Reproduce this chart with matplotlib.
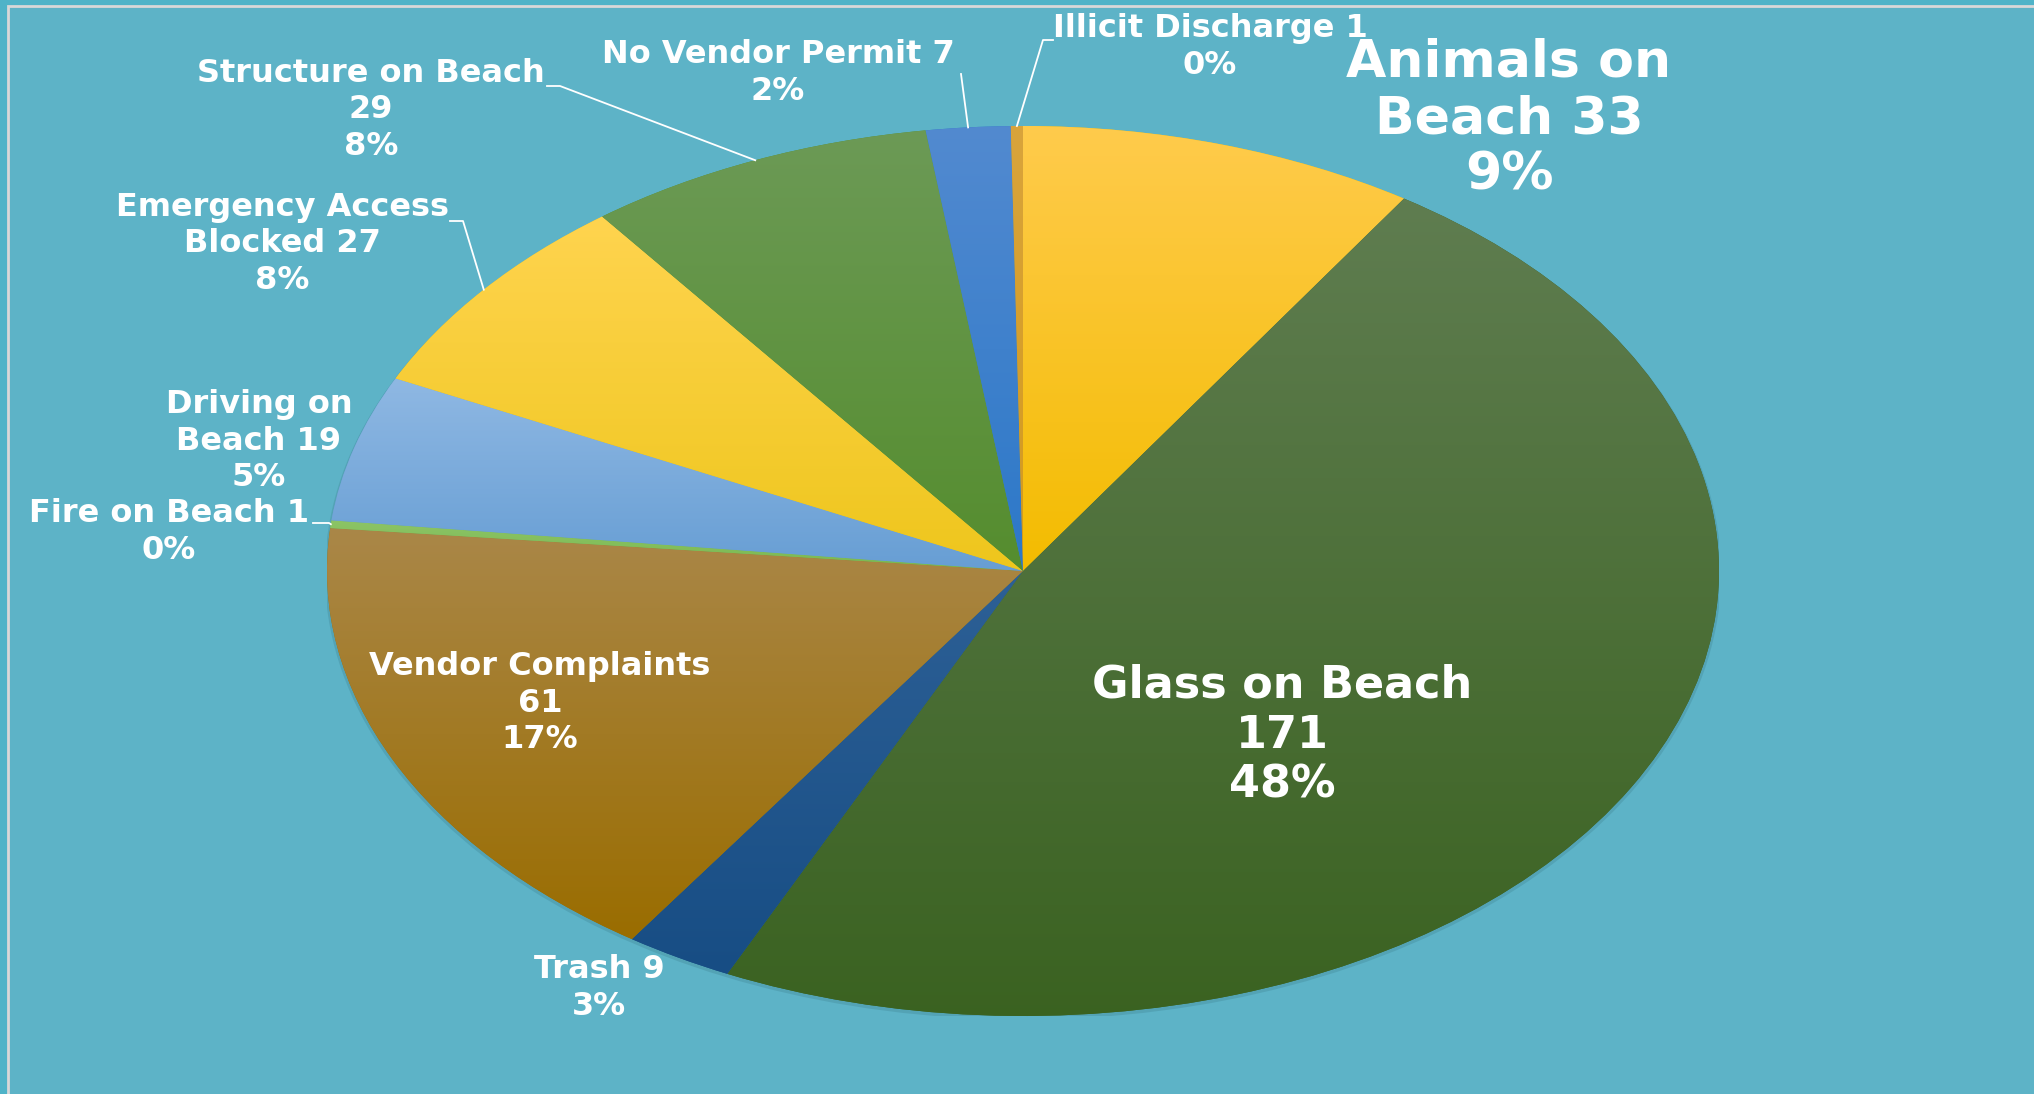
import numpy as np
import matplotlib
matplotlib.use("Agg")
import matplotlib.pyplot as plt
from matplotlib.colors import LinearSegmentedColormap
from matplotlib.patches import Rectangle, Ellipse

# data, clockwise from 12 o'clock
categories = ["Animals on\nBeach", "Glass on Beach\n", "Trash", "Vendor Complaints\n",
              "Fire on Beach", "Driving on\nBeach", "Emergency Access\nBlocked",
              "Structure on Beach\n", "No Vendor Permit", "Illicit Discharge"]
counts = [33, 171, 9, 61, 1, 19, 27, 29, 7, 1]

# gradient colours (top, bottom) per slice
top_colors = ["#FFCB4C", "#5F7D50", "#2D6096", "#AA8748", "#8CC466",
              "#8FB8E3", "#FFD44F", "#6C9A56", "#528AD0", "#D9A43C"]
bottom_colors = ["#F3BC00", "#3A6220", "#174D84", "#9A6D00", "#7AB850",
                 "#679ED4", "#EEC61C", "#558D2E", "#2C78C8", "#D39A1C"]

# label layout in pixels (block centre), font size, line spacing, leader start and elbow
label_pos = [(1509, 119), (1282, 735), (599, 988), (540, 703), (169, 532),
             (259, 441), (282, 244), (371, 110), (778, 73), (1210, 47)]
label_size = [37.5, 32, 23, 23, 23, 23, 23, 23, 23, 23]
label_spacing = [1.16, 1.2, 1.22, 1.22, 1.22, 1.22, 1.22, 1.22, 1.22, 1.22]
leader_from = [None, None, None, None, (313, 523), None, (450, 221),
               (547, 86), (961, 74), (1053, 40)]
elbow = [0, 0, 0, 0, 16, 0, 13, 13, 0, -10]

W, H = 2034, 1094
cx, cy, rx, ry = 1023, 571, 696, 445
bg_outer = "#4FB3C8"
bg_inner = "#5DB3C7"

fig = plt.figure(figsize=(W / 100, H / 100), dpi=100, facecolor=bg_outer)

# background axes in pixel coordinates
bg = fig.add_axes([0, 0, 1, 1])
bg.set_xlim(0, W)
bg.set_ylim(H, 0)
bg.axis("off")
bg.add_patch(Rectangle((8, 6), W + 20, H + 20, facecolor=bg_inner,
                       edgecolor="#D8D8D8", linewidth=2))

# pie axes stretched to the ellipse box
ax = fig.add_axes([(cx - rx) / W, (H - cy - ry) / H, 2 * rx / W, 2 * ry / H])
ax.axis("off")
ax.add_patch(Ellipse((0.0, -0.005), 2.006, 2.006, facecolor="#3C7F8E",
                     alpha=0.3, linewidth=0, zorder=0))
wedges, _ = ax.pie(counts, startangle=90, counterclock=False, radius=1,
                   wedgeprops=dict(linewidth=0))
grad = np.linspace(0, 1, 256).reshape(-1, 1)
for w, c1, c2 in zip(wedges, top_colors, bottom_colors):
    verts = w.get_patch_transform().transform(w.get_path().vertices)
    y0, y1 = verts[:, 1].min(), verts[:, 1].max()
    w.set_facecolor(c2)
    cmap = LinearSegmentedColormap.from_list("g", [c2, c1])
    im = ax.imshow(grad, extent=(-1.05, 1.05, y0, y1), origin="lower",
                   cmap=cmap, aspect="auto", zorder=w.get_zorder() + 0.1,
                   interpolation="bilinear")
    im.set_clip_path(w)
ax.set_xlim(-1, 1)
ax.set_ylim(-1, 1)

# overlay axes for labels and leader lines (on top of the pie)
top = fig.add_axes([0, 0, 1, 1])
top.set_xlim(0, W)
top.set_ylim(H, 0)
top.axis("off")
top.patch.set_alpha(0)

total = sum(counts)
angles = np.cumsum([0] + counts) / total * 360
for i, (name, n) in enumerate(zip(categories, counts)):
    pct = round(n / total * 100)
    text = f"{name} {n}\n{pct}%" if not name.endswith("\n") else f"{name}{n}\n{pct}%"
    x, y = label_pos[i]
    top.text(x, y, text, ha="center", va="center", color="white",
             fontsize=label_size[i], fontweight="bold", family="DejaVu Sans",
             linespacing=label_spacing[i], multialignment="center")
    if leader_from[i] is not None:
        mid = np.radians(90 - (angles[i] + angles[i + 1]) / 2)
        ex, ey = cx + rx * np.cos(mid), cy - ry * np.sin(mid)
        sx, sy = leader_from[i]
        step = elbow[i]
        top.plot([sx, sx + step, ex], [sy, sy, ey], color="white", lw=1.3)

fig.savefig("out.png", dpi=100, facecolor=bg_outer)
